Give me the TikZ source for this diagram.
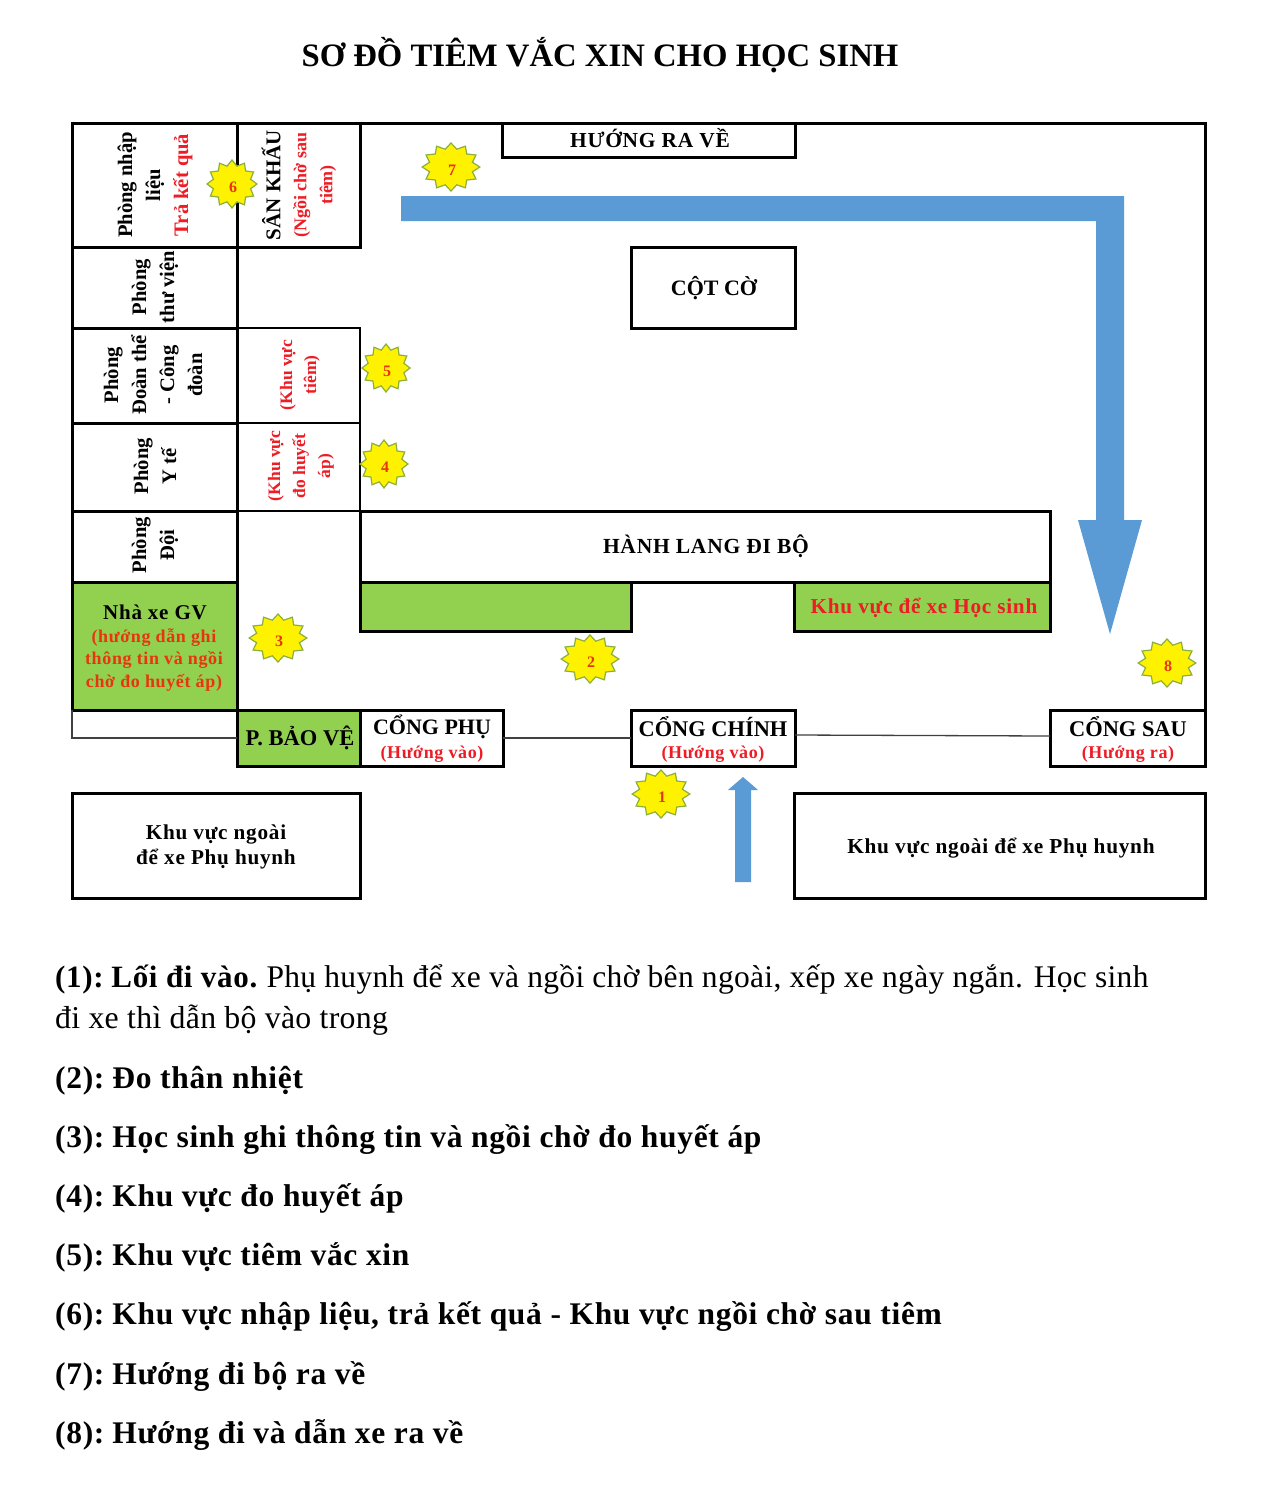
\documentclass[tikz,border=0pt]{standalone}
\usepackage{fontspec}
\setmainfont{Liberation Serif}
\newfontfamily\spc[LetterSpace=3.5]{Liberation Serif}
\newfontfamily\lsb[LetterSpace=2.2]{Liberation Serif}
\newfontfamily\lsr[LetterSpace=1]{Liberation Serif}
\usetikzlibrary{shapes.geometric}
\definecolor{grn}{HTML}{92D050}
\definecolor{blu}{HTML}{5B9BD5}
\definecolor{redt}{HTML}{EE1C25}
\definecolor{oran}{HTML}{E8350F}
\definecolor{stroke}{HTML}{8BAF3C}
\newcommand{\fs}[2]{\fontsize{#1}{#2}\selectfont\bfseries}
\newcommand{\rd}[1]{\textcolor{redt}{#1}}
\newcommand{\ck}{\kern-3.5pt }
% name, style, x1, y1, x2, y2
\newcommand{\room}[6]{%
  \pgfmathsetmacro{\rw}{#5-#3}\pgfmathsetmacro{\rh}{#6-#4}%
  \pgfmathsetmacro{\rx}{(#5+#3)/2}\pgfmathsetmacro{\ry}{(#6+#4)/2}%
  \node[roombox,#2,minimum width=\rw pt,minimum height=\rh pt] (#1) at (\rx,\ry) {};}
% name, x, y, xscale, number
\newcommand{\burst}[5]{%
  \begin{scope}[shift={(#2,#3)},xscale=#4]
    \node[sunburst] (#1) at (0,-1) {};
  \end{scope}
  \node[font=\fs{16}{16},text=oran] (#1t) at (#2+1,#3+2) {#5};}
\tikzset{
  roombox/.style={draw=black,line width=3pt,inner sep=0,outer sep=0},
  thinroom/.style={line width=1.4pt},
  greenroom/.style={fill=grn},
  sunburst/.style={star,star points=12,star point ratio=1.3,fill=yellow,draw=stroke,line width=1.2pt,minimum size=48pt,inner sep=0,transform shape},
  vlabel/.style={rotate=90,align=center,inner sep=0},
  hlabel/.style={align=center,inner sep=0},
  thinline/.style={draw=black!75,line width=1.3pt},
  para/.style={anchor=base west,inner sep=0,font=\lsb\fs{31.5}{40}},
}
\begin{document}
\begin{tikzpicture}[x=1pt,y=-1pt]
\useasboundingbox[fill=white] (0,0) rectangle (1284,1500);

\node[hlabel,font=\fs{32.7}{40}] (title) at (600,55) {SƠ ĐỒ TIÊM VẮC XIN CHO HỌC SINH};

% walls
\coordinate (tl) at (72,123);
\coordinate (tr) at (1205,123);
\coordinate (br) at (1205,710);
\draw[line width=3pt] (tl) -- (tr) -- (br);

% rooms, left column
\room{nhap}{}{72}{123}{237}{247}
\room{thuvien}{}{72}{247}{237}{328}
\room{doanthe}{}{72}{328}{237}{423}
\room{yte}{}{72}{423}{237}{511}
\room{doi}{}{72}{511}{237}{582}
\room{nhaxe}{greenroom}{72}{582}{237}{710}
% second column
\room{sankhau}{}{237}{123}{360}{247}
\room{tiem}{thinroom}{237}{328}{360}{423}
\room{huyetap}{thinroom}{237}{423}{360}{511}
\room{ravealt}{}{502}{123}{795}{157}
\room{cotco}{}{631}{247}{795}{328}
\room{hanhlang}{}{360}{511}{1050}{582}
\room{xe1}{greenroom}{360}{582}{631}{631}
\room{xe2}{greenroom}{794}{582}{1050}{631}
\room{baove}{greenroom}{237}{710}{360}{766}
\room{phu}{}{360}{710}{503}{766}
\room{chinh}{}{631}{710}{795}{766}
\room{sau}{}{1050}{710}{1205}{766}
\room{ngoai1}{}{72}{793}{360}{898}
\room{ngoai2}{}{794}{793}{1205}{898}
\draw[line width=3pt] (237,247) -- (237,328);

% thin connectors
\draw[thinline] (nhaxe.south west) |- (baove.west);
\draw[thinline] (phu.east) -- (chinh.west);
\draw[thinline] ([yshift=3pt]chinh.east) -- ([yshift=2pt]sau.west);

% arrows
\fill[blu] (401,196) -- (1124,196) -- (1124,520) -- (1142,520) -- (1110,634) -- (1078,520) -- (1096,520) -- (1096,221) -- (401,221) -- cycle;
\fill[blu] (743,777) -- (758,790) -- (751,790) -- (751,882) -- (735,882) -- (735,790) -- (728,790) -- cycle;

% labels
\node[hlabel,font=\spc\fs{21.4}{24}] (lre) at (650,138) {HƯỚNG RA VỀ};
\node[hlabel,font=\fs{22}{24}] (lcot) at (714,288) {CỘT CỜ};
\node[vlabel,font=\fs{20.6}{28}] (l1) at (155,185) {Phòng nhập\\liệu\\\rd{Trả kết quả}};
\node[vlabel,font=\fs{20.6}{28}] (l2) at (155,287) {Phòng\\thư viện};
\node[vlabel,font=\fs{20.6}{28}] (l3) at (153,375) {Phòng\\Đoàn thể\\- Công\\đoàn};
\node[vlabel,font=\fs{20.6}{28}] (l4) at (155,466) {Phòng\\Y tế};
\node[vlabel,font=\fs{20.6}{28}] (l5) at (155,545) {Phòng\\Đội};
\node[vlabel,font=\fs{18}{26}] (l6) at (299,185) {{\fs{21}{26}SÂN KHẤU}\\\rd{(Ngồi chờ sau}\\\rd{tiêm)}};
\node[vlabel,font=\fs{17.5}{24},text=redt] (l7) at (300,375) {(Khu vực\\tiêm)};
\node[vlabel,font=\fs{17.5}{25},text=redt] (l8) at (301,466) {(Khu vực\\đo huyết\\áp)};
\node[hlabel,font=\spc\fs{21.5}{24}] (l9) at (706,546) {HÀNH LANG ĐI BỘ};
\node[hlabel,font=\spc\fs{21.2}{24},text=redt] (l10) at (924,608) {Khu vực để xe Học sinh};
\node[hlabel,font=\spc\fs{18}{22.5},text=oran] (l11) at (154,660) {(hướng dẫn ghi\\thông tin và ngồi\\chờ đo huyết áp)};
\node[hlabel,font=\spc\fs{21}{24},text=black] (l12) at (155,612) {Nhà xe GV};
\node[hlabel,font=\fs{22.5}{24}] (l13) at (300,738) {P. BẢO VỆ};
\node[hlabel,font=\fs{22}{24}] (l14) at (432,727) {CỔNG PHỤ};
\node[hlabel,font=\spc\fs{18}{20},text=redt] (l15) at (432,754) {(Hướng vào)};
\node[hlabel,font=\fs{22.4}{24}] (l16) at (713,727) {CỔNG CHÍNH};
\node[hlabel,font=\spc\fs{18}{20},text=redt] (l17) at (713,754) {(Hướng vào)};
\node[hlabel,font=\fs{22.4}{24}] (l18) at (1128,727) {CỔNG SAU};
\node[hlabel,font=\spc\fs{18}{20},text=redt] (l19) at (1128,754) {(Hướng ra)};
\node[hlabel,font=\spc\fs{21.2}{25.5}] (l20) at (216,847) {Khu vực ngoài\\để xe Phụ huynh};
\node[hlabel,font=\spc\fs{21.3}{24}] (l21) at (1001,848) {Khu vực ngoài để xe Phụ huynh};

% stars
\burst{s1}{661}{795}{1.2}{1}
\burst{s2}{590}{660}{1.2}{2}
\burst{s3}{278}{639}{1.2}{3}
\burst{s4}{384}{465}{1.0}{4}
\burst{s5}{386}{369}{1.0}{5}
\burst{s6}{232}{185}{1.04}{6}
\burst{s7}{451}{168}{1.2}{7}
\burst{s8}{1167}{664}{1.2}{8}

% legend
\node[para,font=\lsb\fs{31}{40}] (p1a) at (55,987) {(1):\ck{} Lối đi vào.\kern-2pt{} {\lsr\fontsize{31.5}{40}\selectfont\mdseries Phụ huynh để xe và ngồi chờ bên ngoài, xếp xe ngày ngắn. Học sinh}};
\node[para,font=\lsr\fs{31.8}{40}] (p1b) at (55,1028) {\mdseries đi xe thì dẫn bộ vào trong};
\node[para] (p2) at (55,1088) {(2):\ck{} Đo thân nhiệt};
\node[para] (p3) at (55,1147) {(3):\ck{} Học sinh ghi thông tin và ngồi chờ đo huyết áp};
\node[para] (p4) at (55,1206) {(4):\ck{} Khu vực đo huyết áp};
\node[para] (p5) at (55,1265) {(5):\ck{} Khu vực tiêm vắc xin};
\node[para] (p6) at (55,1324) {(6):\ck{} Khu vực nhập liệu, trả kết quả - Khu vực ngồi chờ sau tiêm};
\node[para] (p7) at (55,1384) {(7):\ck{} Hướng đi bộ ra về};
\node[para] (p8) at (55,1443) {(8):\ck{} Hướng đi và dẫn xe ra về};
\end{tikzpicture}
\end{document}
